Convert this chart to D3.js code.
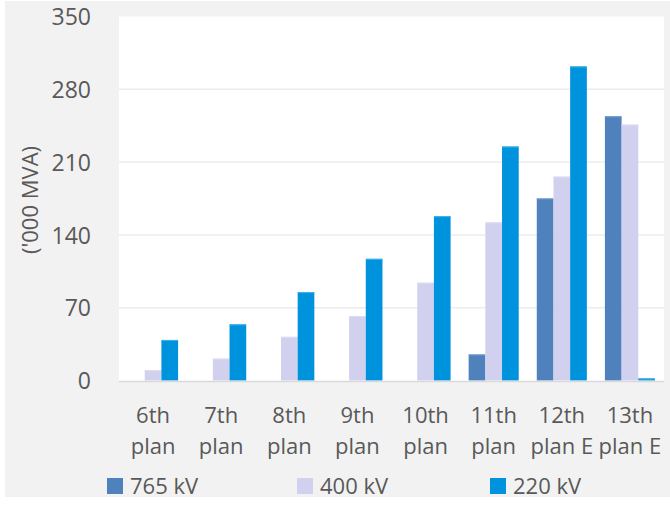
<!DOCTYPE html>
<html>
<head>
<meta charset="utf-8">
<script src="https://cdn.jsdelivr.net/npm/d3@7"></script>
<style>
  html, body { margin: 0; padding: 0; background: #ffffff; }
  svg { display: block; }
  text { font-family: "Open Sans", "Noto Sans", sans-serif; fill: #595959; }
</style>
</head>
<body>
<svg id="chart" width="670" height="506"></svg>
<script>
// Transmission capacity by plan period, thousand MVA
const categories = [
  ["6th", "plan"], ["7th", "plan"], ["8th", "plan"], ["9th", "plan"],
  ["10th", "plan"], ["11th", "plan"], ["12th", "plan E"], ["13th", "plan E"]
];
const seriesNames = ["765 kV", "400 kV", "220 kV"];
const kv765 = [0, 0, 0, 0, 0, 25, 175, 254];
const kv400 = [10, 21, 42, 62, 94, 152, 196, 246];
const kv220 = [39, 54, 85, 117, 158, 225, 302, 2];
const yTicks = [0, 70, 140, 210, 280, 350];

const colors = ["#4f81bd", "#d1d1ef", "#0093dd"];
const strokes = ["#6f9ad0", "#dcdcf3", "#45b2ea"];
const series = [kv765, kv400, kv220];

const svg = d3.select("#chart");

// Panel background
svg.append("rect").attr("x", 5).attr("y", 1).attr("width", 665).attr("height", 496)
  .attr("fill", "#f2f2f2");

const plot = { left: 119, right: 664, top: 16.5, bottom: 380.5 };

svg.append("rect").attr("x", plot.left).attr("y", plot.top)
  .attr("width", plot.right - plot.left).attr("height", plot.bottom - plot.top + 1)
  .attr("fill", "#ffffff");

const keys = categories.map(c => c.join(" "));
const x = d3.scaleBand().domain(keys).range([plot.left, plot.right]);
const y = d3.scaleLinear().domain([0, 350]).range([plot.bottom, plot.top]);
const barW = x.bandwidth() * 0.245;
const xs = d3.scaleBand().domain(seriesNames)
  .range([0, barW * 3]);

// Gridlines
svg.append("g")
  .selectAll("line").data(yTicks.filter(t => t > 0 && t < 350)).join("line")
  .attr("x1", plot.left).attr("x2", plot.right)
  .attr("y1", d => y(d)).attr("y2", d => y(d))
  .attr("stroke", "#ececec").attr("stroke-width", 1.5);

// Bars
const groups = svg.append("g").selectAll("g").data(keys).join("g")
  .attr("transform", d => `translate(${x(d) + (x.bandwidth() - barW * 3) / 2},0)`);

groups.each(function(k, i) {
  const g = d3.select(this);
  series.forEach((vals, s) => {
    const v = vals[i];
    if (v <= 0) return;
    g.append("rect")
      .attr("x", xs(seriesNames[s]))
      .attr("y", y(v))
      .attr("width", barW)
      .attr("height", y(0) - y(v))
      .attr("fill", colors[s]);
    g.append("line")
      .attr("x1", xs(seriesNames[s])).attr("x2", xs(seriesNames[s]) + barW)
      .attr("y1", y(v) + 0.5).attr("y2", y(v) + 0.5)
      .attr("stroke", strokes[s]).attr("stroke-width", 1);
  });
});

// Baseline
svg.append("line")
  .attr("x1", plot.left).attr("x2", plot.right)
  .attr("y1", y(0) + 1).attr("y2", y(0) + 1)
  .attr("stroke", "#d9d9d9").attr("stroke-width", 1.5);

// Y axis tick labels
const yAxis = d3.axisLeft(y).tickValues(yTicks).tickSize(0).tickPadding(0);
const yg = svg.append("g").attr("transform", "translate(91,0)").call(yAxis);
yg.select(".domain").remove();
yg.selectAll("text")
  .attr("fill", "#595959")
  .style("font-family", '"Open Sans", "Noto Sans", sans-serif')
  .style("font-size", "23px")
  .attr("dy", "0.36em");

// Category labels on two lines
const xAxis = d3.axisBottom(x).tickSize(0).tickFormat("");
const xg = svg.append("g").attr("transform", `translate(0,${plot.bottom})`).call(xAxis);
xg.select(".domain").remove();
xg.selectAll(".tick").each(function(k, i) {
  const t = d3.select(this).append("text")
    .attr("text-anchor", "middle")
    .style("font-size", "22px")
    .attr("fill", "#595959");
  t.append("tspan").attr("x", 0).attr("y", 42).text(categories[i][0]);
  t.append("tspan").attr("x", 0).attr("y", 73).text(categories[i][1]);
});

// Y axis title
svg.append("text")
  .attr("transform", "translate(38,200) rotate(-90)")
  .attr("text-anchor", "middle")
  .style("font-size", "22px")
  .text("('000 MVA)");

// Legend
const legendX = [107, 297, 490];
const legend = svg.append("g").selectAll("g").data(seriesNames).join("g")
  .attr("transform", (d, i) => `translate(${legendX[i]},478)`);
legend.append("rect").attr("width", 16).attr("height", 16)
  .attr("fill", (d, i) => colors[i]);
legend.append("text").attr("x", 23).attr("y", 15.5)
  .style("font-size", "22px")
  .text(d => d);
</script>
</body>
</html>
